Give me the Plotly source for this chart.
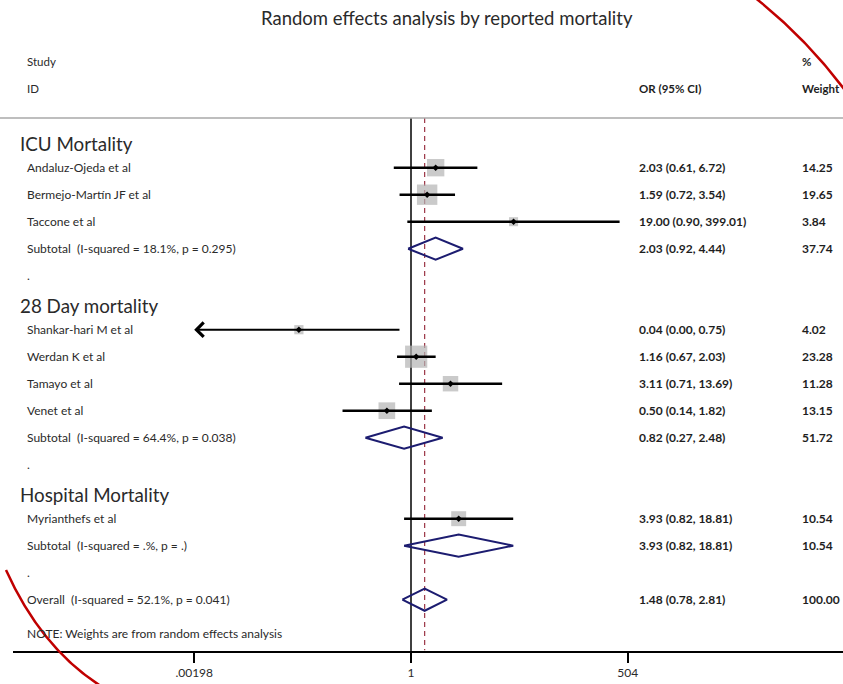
import math
import plotly.graph_objects as go

# ---------------- data ----------------
title = "Random effects analysis by reported mortality"
groups = ["ICU Mortality", "28 Day mortality", "Hospital Mortality"]
studies = ["Andaluz-Ojeda et al", "Bermejo-Martín JF et al", "Taccone et al",
           "Shankar-hari M et al", "Werdan K et al", "Tamayo et al", "Venet et al",
           "Myrianthefs et al"]
study_group = [0, 0, 0, 1, 1, 1, 1, 2]
study_or = [2.03, 1.59, 19.00, 0.04, 1.16, 3.11, 0.50, 3.93]
study_lo = [0.61, 0.72, 0.90, 0.00, 0.67, 0.71, 0.14, 0.82]
study_hi = [6.72, 3.54, 399.01, 0.75, 2.03, 13.69, 1.82, 18.81]
study_w = [14.25, 19.65, 3.84, 4.02, 23.28, 11.28, 13.15, 10.54]

sub_label = ["Subtotal  (I-squared = 18.1%, p = 0.295)",
             "Subtotal  (I-squared = 64.4%, p = 0.038)",
             "Subtotal  (I-squared = .%, p = .)"]
sub_or = [2.03, 0.82, 3.93]
sub_lo = [0.92, 0.27, 0.82]
sub_hi = [4.44, 2.48, 18.81]
sub_w = [37.74, 51.72, 10.54]

overall_label = "Overall  (I-squared = 52.1%, p = 0.041)"
overall_or = 1.48
overall_lo = 0.78
overall_hi = 2.81
overall_w = 100.00

tick_vals = [0.00198, 1, 504]
tick_text = [".00198", "1", "504"]
note = "NOTE: Weights are from random effects analysis"

# ---------------- layout helpers ----------------
W, H = 843, 684
MB = 33                      # bottom margin (axis position)
PH = H - MB                  # plot-area height in px
ROW0_PX = 167.7              # pixel of row 0
ROW_PX = 27.0                # pixel per row
PX_DEC = 80.2                # pixels per decade on x
X_ONE_PX = 411.0             # pixel of OR = 1
X_DOM0_PX = 13.0             # left end of the axis line

def row_of_px(py):
    return (py - ROW0_PX) / ROW_PX

FONT = "Lato"
TXT = "#2a2a2a"
NUM = "#1e1e1e"
FS = 12

# assign rows
hdr_rows, study_rows, sub_rows, dot_rows = [], [None] * len(studies), [], []
k = -1
for g in range(len(groups)):
    hdr_rows.append(k)
    k += 1
    for i, sg in enumerate(study_group):
        if sg == g:
            study_rows[i] = k
            k += 1
    sub_rows.append(k)
    k += 1
    dot_rows.append(k)
    k += 1
overall_row = k
note_row = overall_row + 1.27

xmin = tick_vals[0]
fig = go.Figure()

# null line and overall dashed line
top_row = row_of_px(118)
bot_row = row_of_px(PH)
fig.add_trace(go.Scatter(x=[1, 1], y=[top_row, bot_row], mode="lines",
                         line=dict(color="black", width=1.5), hoverinfo="skip"))
fig.add_trace(go.Scatter(x=[overall_or, overall_or], y=[top_row, bot_row - 0.03], mode="lines",
                         line=dict(color="#9b3545", width=1.2, dash="5px,4px"), hoverinfo="skip"))

# weight squares
fig.add_trace(go.Scatter(
    x=study_or, y=study_rows, mode="markers",
    marker=dict(symbol="square", size=[4.6 * math.sqrt(w) for w in study_w],
                color="#b4b4b4", line=dict(width=0)),
    hoverinfo="skip"))

# CI lines
cx, cy = [], []
for lo, hi, r in zip(study_lo, study_hi, study_rows):
    if lo < xmin:
        continue
    cx += [lo, hi, None]
    cy += [r, r, None]
fig.add_trace(go.Scatter(x=cx, y=cy, mode="lines",
                         line=dict(color="black", width=2.6), hoverinfo="skip"))

# point estimates
fig.add_trace(go.Scatter(x=study_or, y=study_rows, mode="markers",
                         marker=dict(symbol="diamond", size=5, color="black"),
                         hoverinfo="skip"))

# diamonds
DH = 0.41
dx, dy = [], []
for est, lo, hi, r in list(zip(sub_or, sub_lo, sub_hi, sub_rows)) + [(overall_or, overall_lo, overall_hi, overall_row)]:
    dx += [lo, est, hi, est, lo, None]
    dy += [r, r - DH, r, r + DH, r, None]
fig.add_trace(go.Scatter(x=dx, y=dy, mode="lines",
                         line=dict(color="#1c1c70", width=2), hoverinfo="skip"))

ann = []

def txt(xpx, y, s, size=FS, weight=400, xanchor="left", yref="y", color=TXT):
    ann.append(dict(x=xpx / W, xref="paper", y=y, yref=yref, text=s, showarrow=False,
                    xanchor=xanchor, yanchor="middle",
                    font=dict(family=FONT, size=size, color=color, weight=weight)))

# arrows for truncated CIs
for lo, hi, r in zip(study_lo, study_hi, study_rows):
    if lo < xmin:
        ann.append(dict(x=math.log10(xmin), y=r, xref="x", yref="y",
                        ax=math.log10(hi), ay=r, axref="x", ayref="y",
                        text="", showarrow=True, arrowhead=4, arrowsize=1.4,
                        arrowwidth=2, arrowcolor="black", standoff=0, startstandoff=0))

# header texts
txt(447, row_of_px(18), title, size=18.5, xanchor="center")
txt(25, row_of_px(61), "Study", size=11.5)
txt(25, row_of_px(88), "ID", size=11.5)
txt(637, row_of_px(88), "OR (95% CI)", size=11.5, weight=700, color=NUM)
txt(800, row_of_px(61), "%", size=11.5, weight=700, color=NUM)
txt(800, row_of_px(88), "Weight", size=11.5, weight=700, color=NUM)

for g, r in enumerate(hdr_rows):
    txt(18, r + 0.12, groups[g], size=18.8)

def fmt(est, lo, hi):
    return f"{est:.2f} ({lo:.2f}, {hi:.2f})"

for i, r in enumerate(study_rows):
    txt(25, r, studies[i])
    txt(637, r, fmt(study_or[i], study_lo[i], study_hi[i]), weight=700, color=NUM)
    txt(800, r, f"{study_w[i]:.2f}", weight=700, color=NUM)

for g, r in enumerate(sub_rows):
    txt(25, r, sub_label[g])
    txt(637, r, fmt(sub_or[g], sub_lo[g], sub_hi[g]), weight=700, color=NUM)
    txt(800, r, f"{sub_w[g]:.2f}", weight=700, color=NUM)

for r in dot_rows:
    txt(25, r, ".")

txt(25, overall_row, overall_label)
txt(637, overall_row, fmt(overall_or, overall_lo, overall_hi), weight=700, color=NUM)
txt(800, overall_row, f"{overall_w:.2f}", weight=700, color=NUM)
txt(25, note_row, note)

# decorative shapes (top rule and red arcs)
def py(p):
    return 1 - p / PH

shapes = [
    dict(type="line", xref="paper", yref="paper", x0=0, x1=1, y0=py(118), y1=py(118),
         line=dict(color="#a8a8a8", width=1.5)),
    dict(type="path", xref="paper", yref="paper",
         path=f"M {745/W},{py(-10)} Q {805/W},{py(35)} {850/W},{py(97)}",
         line=dict(color="#c00000", width=2.5)),
    dict(type="path", xref="paper", yref="paper",
         path=f"M {6/W},{py(570)} Q {42/W},{py(650)} {104/W},{py(688)}",
         line=dict(color="#c00000", width=2.5)),
]

xr0 = (X_DOM0_PX - X_ONE_PX) / PX_DEC
xr1 = (W - X_ONE_PX) / PX_DEC

fig.update_layout(
    width=W, height=H,
    margin=dict(l=0, r=0, t=0, b=MB, pad=0),
    paper_bgcolor="white", plot_bgcolor="white",
    showlegend=False,
    annotations=ann,
    shapes=shapes,
    xaxis=dict(type="log", range=[xr0, xr1], domain=[X_DOM0_PX / W, 1],
               tickvals=tick_vals, ticktext=tick_text, ticks="outside",
               ticklen=10, tickwidth=1.5, tickcolor="black",
               showline=True, linecolor="black", linewidth=1.8,
               showgrid=False, zeroline=False,
               tickfont=dict(family=FONT, size=12, color=TXT)),
    yaxis=dict(range=[row_of_px(PH), row_of_px(0)], visible=False,
               showgrid=False, zeroline=False),
)

fig.write_html("out.html")
